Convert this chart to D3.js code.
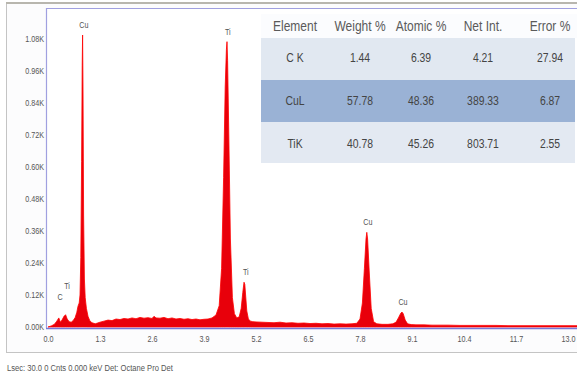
<!DOCTYPE html>
<html>
<head>
<meta charset="utf-8">
<script src="https://cdn.jsdelivr.net/npm/d3@7"></script>
<style>
  body { margin: 0; background: #fff; }
  svg { display: block; font-family: "Liberation Sans", Arial, sans-serif; }
</style>
</head>
<body>
<svg width="577" height="378"></svg>
<script>
// spectrum (keV, counts)
var energy = [0.00, 0.08, 0.16, 0.22, 0.27, 0.31, 0.35, 0.40, 0.44, 0.48, 0.53, 0.58, 0.63, 0.68, 0.72, 0.75,
  0.78, 0.80, 0.82, 0.84, 0.855, 0.865, 0.875, 0.89, 0.91, 0.93, 0.96, 1.00, 1.05, 1.10, 1.18,
  1.30, 1.40, 1.50, 1.60, 1.70, 1.80, 1.90, 2.00, 2.10, 2.20, 2.30, 2.40, 2.50, 2.60, 2.65, 2.70,
  2.80, 2.90, 3.00, 3.10, 3.20, 3.30, 3.40, 3.50, 3.60, 3.70, 3.80, 3.90, 4.00, 4.10, 4.20, 4.28,
  4.34, 4.39, 4.43, 4.46, 4.475, 4.49, 4.52, 4.56, 4.61, 4.66, 4.72, 4.78, 4.83, 4.87, 4.90, 4.92,
  4.94, 4.97, 5.01, 5.06, 5.12, 5.20, 5.35, 5.50, 5.65, 5.80, 5.95, 6.10, 6.25, 6.40, 6.55, 6.70,
  6.85, 7.00, 7.15, 7.30, 7.45, 7.60, 7.72, 7.80, 7.86, 7.91, 7.95, 7.97, 7.99, 8.03, 8.08, 8.14,
  8.22, 8.35, 8.50, 8.62, 8.70, 8.76, 8.82, 8.85, 8.88, 8.93, 8.99, 9.08, 9.20, 9.40, 9.60, 9.80,
  10.0, 10.3, 10.6, 10.9, 11.2, 11.5, 11.8, 12.1, 12.4, 12.7, 13.0, 13.3];
var counts = [0, 4, 10, 22, 34, 18, 26, 40, 46, 30, 20, 18, 24, 36, 55, 78,
  90, 120, 260, 620, 980, 1095, 900, 420, 180, 110, 70, 40, 22, 16, 12,
  18, 22, 26, 24, 30, 28, 32, 30, 34, 31, 36, 33, 35, 32, 40, 34,
  33, 36, 31, 34, 30, 32, 29, 31, 28, 30, 27, 29, 30, 34, 45, 80,
  220, 560, 900, 1040, 1070, 1000, 720, 330, 110, 50, 34, 38, 70, 130, 168, 160,
  120, 60, 30, 22, 20, 19, 18, 17, 16, 18, 15, 16, 14, 15, 13, 14,
  12, 13, 11, 12, 11, 12, 14, 30, 90, 220, 330, 355, 330, 210, 70, 20,
  12, 10, 10, 12, 18, 34, 52, 56, 50, 26, 12, 9, 8, 8, 7, 7,
  7, 6, 6, 6, 6, 5, 5, 5, 5, 5, 5, 5];

// peak labels
var peakNames = ["C", "Ti", "Cu", "Ti", "Ti", "Cu", "Cu"];
var peakKeV = [0.28, 0.45, 0.87, 4.47, 4.92, 7.97, 8.85];
var peakCounts = [34, 46, 1095, 1070, 168, 355, 56];

// quantification table
var columns = ["Element", "Weight %", "Atomic %", "Net Int.", "Error %"];
var elements = ["C K", "CuL", "TiK"];
var weightPct = [1.44, 57.78, 40.78];
var atomicPct = [6.39, 48.36, 45.26];
var netInt = [4.21, 389.33, 803.71];
var errorPct = [27.94, 6.87, 2.55];

var yTicks = [0, 120, 240, 360, 480, 600, 720, 840, 960, 1080];
var xTicks = [0, 1.3, 2.6, 3.9, 5.2, 6.5, 7.8, 9.1, 10.4, 11.7, 13.0];
var footer = "Lsec: 30.0 0 Cnts 0.000 keV Det: Octane Pro Det";

var svg = d3.select("svg");
var narrow = 0.8; // squeeze text to look like Arial Narrow

// outer frame
svg.append("rect")
  .attr("x", 6.5).attr("y", 3).attr("width", 580).attr("height", 349.5)
  .attr("fill", "#fcfcfd").attr("stroke", "#c4c4c4").attr("stroke-width", 1);
svg.append("line")
  .attr("x1", 6).attr("x2", 577).attr("y1", 3).attr("y2", 3)
  .attr("stroke", "#b8b6ae").attr("stroke-width", 2);

// plot area
var pLeft = 46, pTop = 8, pBottom = 328;
svg.append("rect")
  .attr("x", pLeft).attr("y", pTop).attr("width", 577 - pLeft + 5).attr("height", pBottom - pTop)
  .attr("fill", "#fff");

var x = d3.scaleLinear().domain([0, 13]).range([48, 568]),
  y = d3.scaleLinear().domain([0, 1200]).range([pBottom - 1, 7]);

svg.append("clipPath").attr("id", "clip")
  .append("rect").attr("x", pLeft).attr("y", pTop).attr("width", 577 - pLeft).attr("height", pBottom - pTop);

var spectrum = energy.map(function(e, i) { return { e: e, c: counts[i] }; });

var area = d3.area()
  .x(function(d) { return x(d.e); })
  .y0(y(0))
  .y1(function(d) { return y(d.c); });

svg.append("path")
  .datum(spectrum)
  .attr("clip-path", "url(#clip)")
  .attr("d", area)
  .attr("fill", "#e8000b")
  .attr("stroke", "#f00")
  .attr("stroke-width", 0.8);

// plot border lines
svg.append("path")
  .attr("d", "M" + (pLeft + 0.5) + "," + pBottom + "V" + (pTop + 0.5) + "H577")
  .attr("fill", "none").attr("stroke", "#a0a0e0").attr("stroke-width", 1.2);
svg.append("line")
  .attr("x1", pLeft).attr("x2", 577).attr("y1", pBottom + 0.5).attr("y2", pBottom + 0.5)
  .attr("stroke", "#7878d8").attr("stroke-width", 1.4);

// y axis labels
svg.append("g")
  .attr("transform", "translate(" + (pLeft - 2) + ",0)")
  .call(d3.axisLeft(y).tickValues(yTicks).tickSize(0).tickPadding(0)
    .tickFormat(function(d) { return (d / 1000).toFixed(2) + "K"; }))
  .call(function(g) { g.select(".domain").remove(); })
  .selectAll("text")
  .attr("font-size", 9).attr("fill", "#555").attr("font-family", null)
  .attr("transform", "scale(" + narrow + ",1)");

// x axis labels
svg.append("g")
  .attr("transform", "translate(0," + pBottom + ")")
  .call(d3.axisBottom(x).tickValues(xTicks).tickSize(0).tickPadding(8)
    .tickFormat(function(d) { return d.toFixed(1); }))
  .call(function(g) { g.select(".domain").remove(); })
  .selectAll("text")
  .attr("font-size", 9).attr("fill", "#555").attr("font-family", null)
  .attr("transform", function() {
    // keep label centred on its tick while squeezing it
    return "scale(" + narrow + ",1)";
  });
// squeeze inside each tick group so centring stays right
svg.selectAll(".tick text").attr("transform", null)
  .each(function() {
    var t = d3.select(this);
    t.attr("transform", "scale(" + narrow + ",1)");
  });

// peak labels (the two small ones near 0.3 keV stack above their peaks)
var labelLift = [18, 26, 7, 7, 7, 7, 7];
svg.append("g").selectAll("text")
  .data(peakNames)
  .join("text")
  .attr("transform", function(d, i) {
    return "translate(" + (x(peakKeV[i]) + 1) + "," + (y(peakCounts[i]) - labelLift[i]) + ") scale(" + narrow + ",1)";
  })
  .attr("text-anchor", "middle")
  .attr("font-size", 9)
  .attr("fill", "#555")
  .text(function(d) { return d; });

// table
var colX = [295, 360, 421, 483, 550],
  rowY = [57, 100, 143],
  rowTop = [38, 80, 122],
  rowH = [42, 42, 41],
  rowFill = ["#e1e8f1", "#9ab2d5", "#e3e9f2"];

var table = svg.append("g");
table.append("rect")
  .attr("x", 261).attr("y", 14).attr("width", 316).attr("height", 24)
  .attr("fill", "#fbfcfe");
table.selectAll("rect.row")
  .data(elements)
  .join("rect")
  .attr("class", "row")
  .attr("x", 261).attr("y", function(d, i) { return rowTop[i]; })
  .attr("width", 314).attr("height", function(d, i) { return rowH[i]; })
  .attr("fill", function(d, i) { return rowFill[i]; });

table.selectAll("text.head")
  .data(columns)
  .join("text")
  .attr("class", "head")
  .attr("transform", function(d, i) { return "translate(" + colX[i] + ",31) scale(" + narrow + ",1)"; })
  .attr("text-anchor", "middle")
  .attr("font-size", 15)
  .attr("fill", "#5a5a5a")
  .text(function(d) { return d; });

var rows = elements.map(function(el, i) {
  return [el, weightPct[i].toFixed(2), atomicPct[i].toFixed(2), netInt[i].toFixed(2), errorPct[i].toFixed(2)];
});

rows.forEach(function(r, i) {
  table.selectAll("text.r" + i)
    .data(r)
    .join("text")
    .attr("class", "r" + i)
    .attr("transform", function(d, j) { return "translate(" + colX[j] + "," + (rowY[i] + 5) + ") scale(" + narrow + ",1)"; })
    .attr("text-anchor", "middle")
    .attr("font-size", 13)
    .attr("fill", "#444")
    .text(function(d) { return d; });
});

// footer
svg.append("text")
  .attr("transform", "translate(7,371) scale(" + narrow + ",1)")
  .attr("font-size", 9.5)
  .attr("fill", "#555")
  .text(footer);
</script>
</body>
</html>
